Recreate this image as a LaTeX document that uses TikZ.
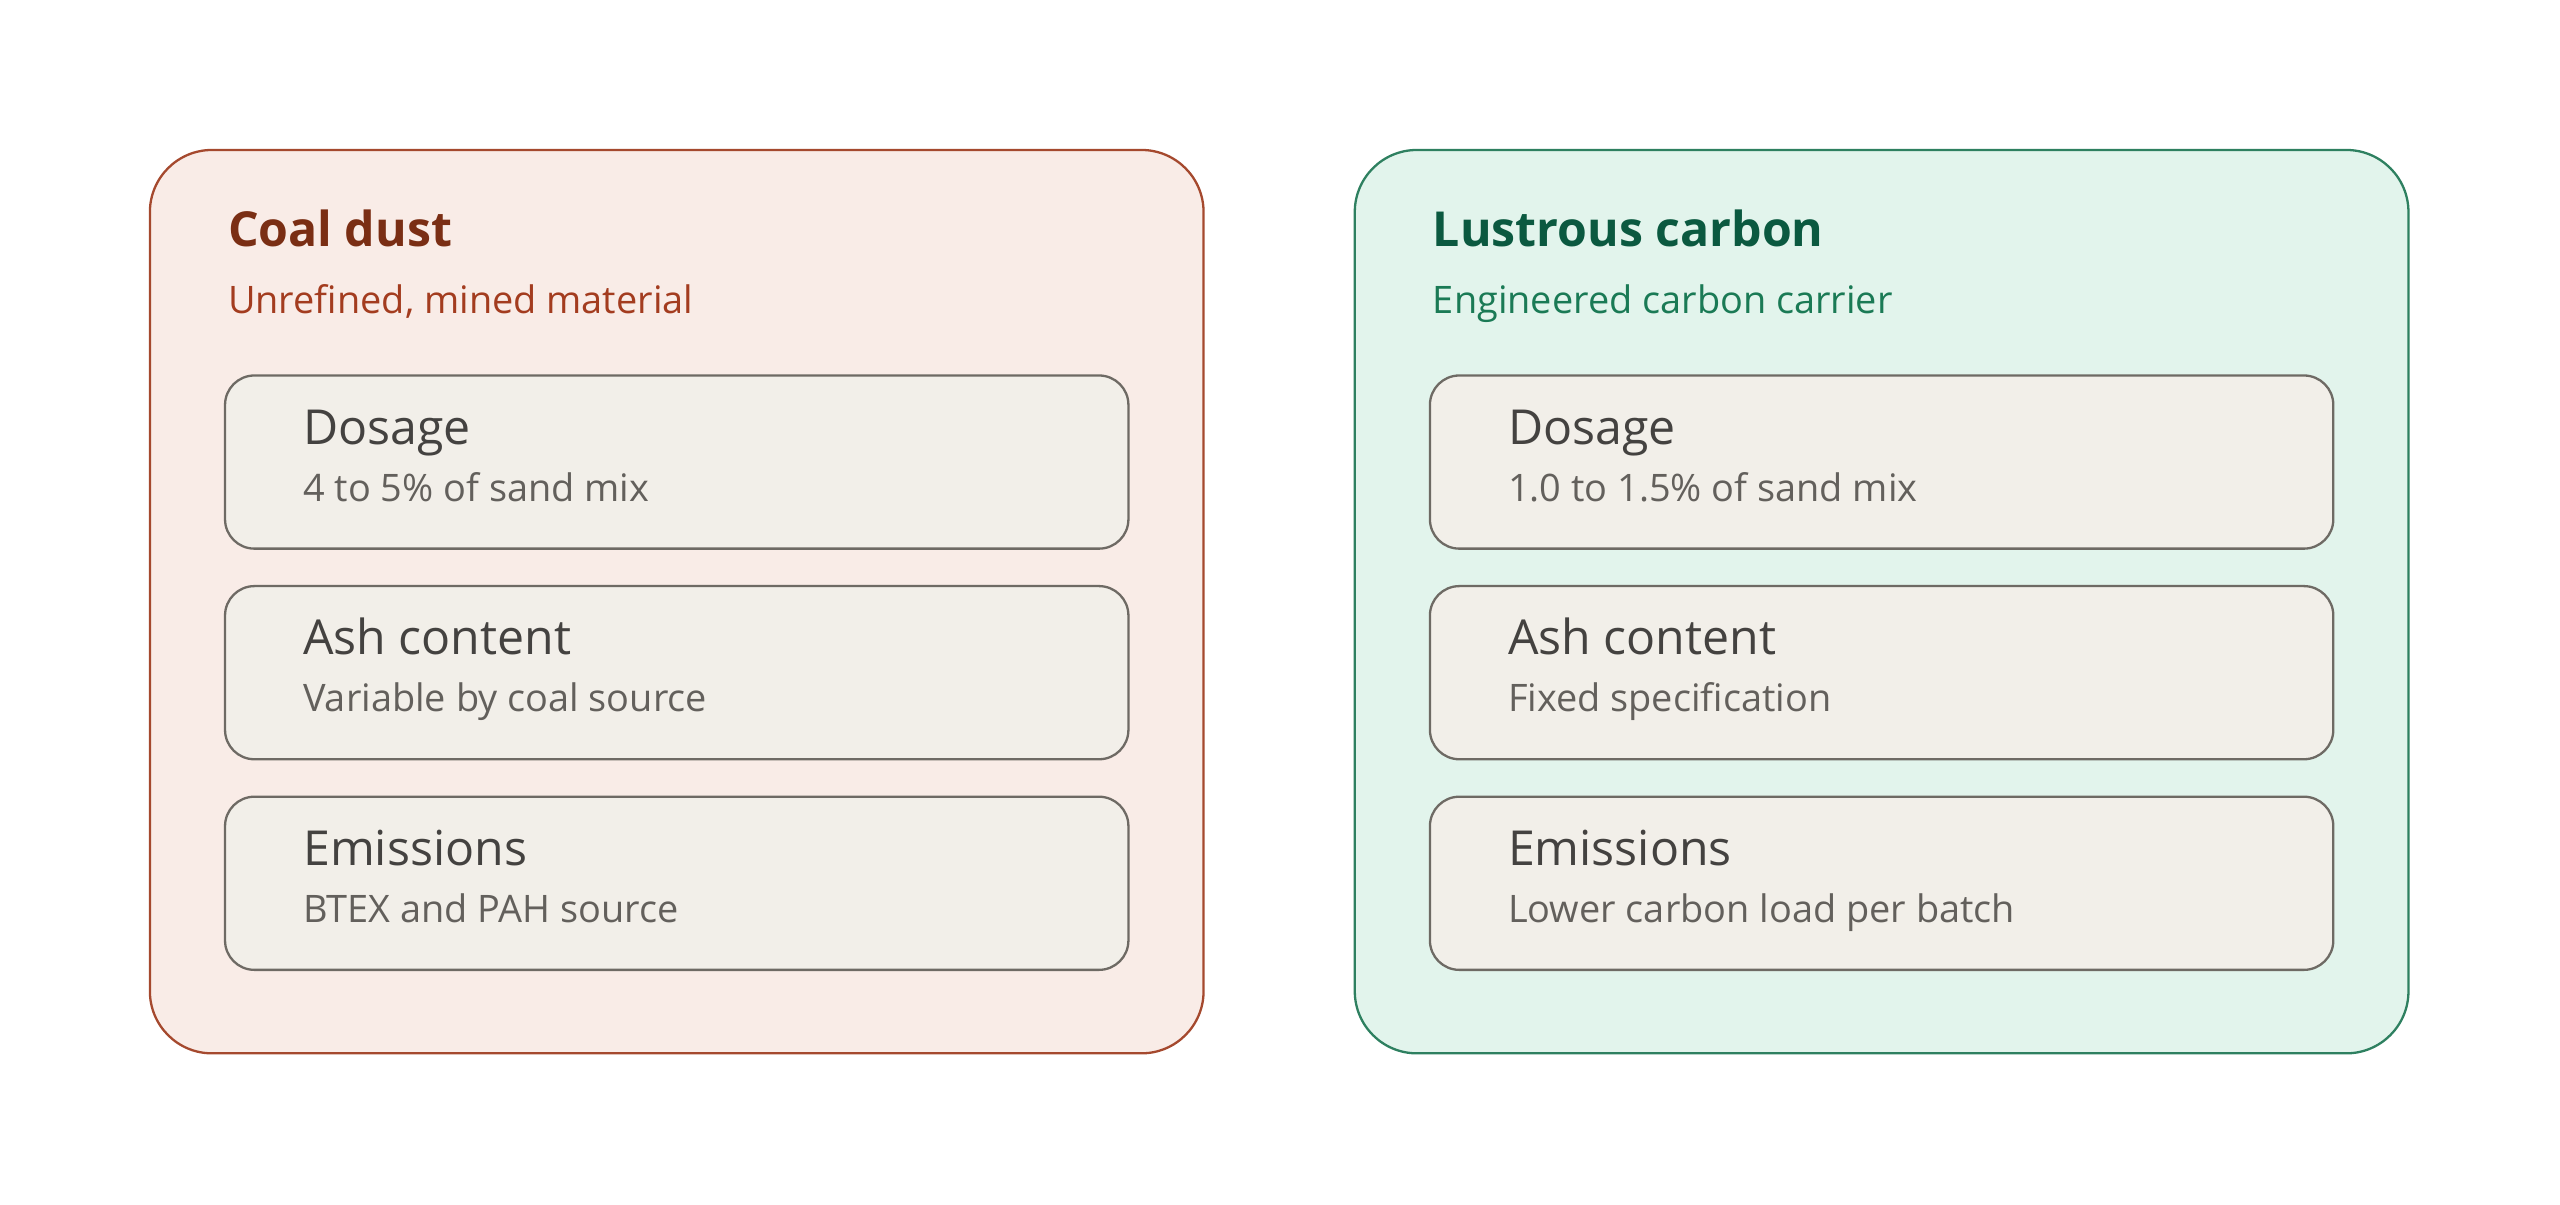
\documentclass[tikz,border=0pt]{standalone}
\usepackage{fontspec}
\setmainfont{Open Sans}
\usetikzlibrary{positioning}
\definecolor{coalFill}{HTML}{F9ECE7}
\definecolor{coalLine}{HTML}{A5492E}
\definecolor{coalHead}{HTML}{7A2E14}
\definecolor{coalSub}{HTML}{A33C1F}
\definecolor{lusFill}{HTML}{E2F4EC}
\definecolor{lusLine}{HTML}{2E8060}
\definecolor{lusHead}{HTML}{0B5940}
\definecolor{lusSub}{HTML}{1A7A55}
\definecolor{cardFill}{HTML}{F2EFE9}
\definecolor{cardLine}{HTML}{6E6A64}
\definecolor{cardHead}{HTML}{444240}
\definecolor{cardSub}{HTML}{63605C}
\tikzset{
	panel/.style	= {rectangle, rounded corners = 0.38cm, minimum width = 6.45cm, minimum height = 5.53cm, inner sep = 0},
	card/.style	= {rectangle, rounded corners = 0.18cm, draw = cardLine, fill = cardFill, line width = 0.4pt, minimum width = 5.53cm, minimum height = 1.06cm, inner sep = 0},
	head/.style	= {anchor = base west, inner sep = 0, font = \fontsize{8.4}{10}\selectfont\bfseries},
	sub/.style	= {anchor = base west, inner sep = 0, font = \fontsize{6.6}{8}\selectfont},
}
\begin{document}
\begin{tikzpicture}
[
	x	= 0.01cm,	% one unit per pixel of the reference
	y	= -0.01cm,
]

{
	\useasboundingbox (0,0) rectangle (1568,738);

	% panels
	\node (pCoal) [panel, draw = coalLine, fill = coalFill] at (414.5,368.5) {};
	\node (pLus) [panel, draw = lusLine, fill = lusFill] at (1152.5,368.5) {};

	\node (tCoal) [head, text = coalHead] at (139,151) {Coal dust};
	\node (sCoal) [sub, text = coalSub] at (139,192) {Unrefined, mined material};
	\node (tLus) [head, text = lusHead] at (877,151) {Lustrous carbon};
	\node (sLus) [sub, text = lusSub] at (877,192) {Engineered carbon carrier};

	% cards
	\foreach \n/\y/\h/\a/\b in {One/283/Dosage/4 to 5\% of sand mix/1.0 to 1.5\% of sand mix,
		Two/412/Ash content/Variable by coal source/Fixed specification,
		Three/541/Emissions/BTEX and PAH source/Lower carbon load per batch}
	{
		\node (cCoal\n) [card] at (414.5,\y) {};
		\node (cLus\n) [card] at (1152.5,\y) {};
		\node [head, font = \fontsize{8.4}{10}\selectfont\mdseries, text = cardHead] at (185,\y-11) {\h};
		\node [sub, text = cardSub] at (185,\y+24) {\a};
		\node [head, font = \fontsize{8.4}{10}\selectfont\mdseries, text = cardHead] at (923,\y-11) {\h};
		\node [sub, text = cardSub] at (923,\y+24) {\b};
	}
}

\end{tikzpicture}
\end{document}
